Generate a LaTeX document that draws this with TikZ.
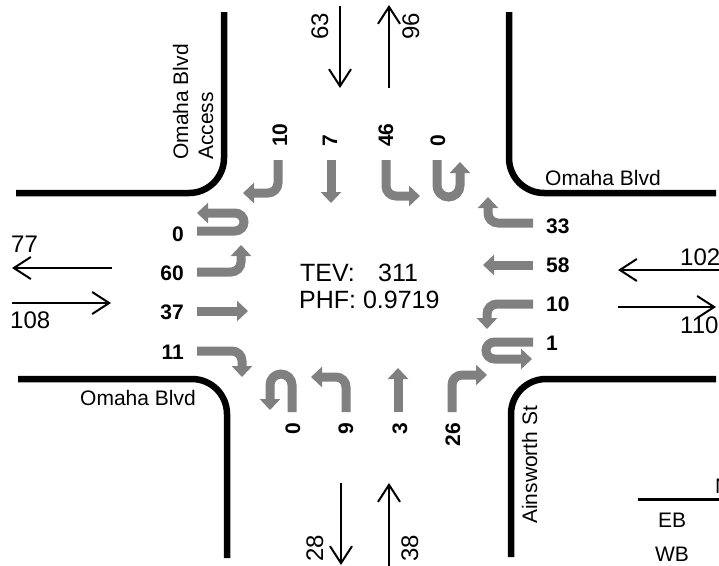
\documentclass[tikz,border=0pt]{standalone}
\usepackage{fontspec}
\setmainfont{Liberation Sans}
\usetikzlibrary{arrows.meta}
\definecolor{mvgray}{RGB}{128,128,128}
\begin{document}
\begin{tikzpicture}[x=1pt,y=-1pt,
 curb/.style={line width=6.5pt, black, rounded corners=35pt},
 mv/.style={draw=mvgray, line width=9pt, rounded corners=10pt, -{Triangle[length=11pt,width=20pt]}},
 vol/.style={line width=2pt, -{Straight Barb[length=17pt,width=22pt,line width=2pt]}},
 bnum/.style={font=\bfseries\fontsize{21}{25}\selectfont, inner sep=0pt},
 rnum/.style={font=\fontsize{24}{28}\selectfont, inner sep=0pt},
 street/.style={font=\fontsize{21}{25}\selectfont, inner sep=0pt},
 big/.style={font=\fontsize{25}{30}\selectfont, inner sep=0pt},
 lgd/.style={font=\fontsize{21}{25}\selectfont, inner sep=0pt},
]
\useasboundingbox (0,0) rectangle (719,565);

% curbs
\draw[curb] (16,193) -- (224,193) -- (224,12);
\draw[curb] (509,12) -- (509,193) -- (716,193);
\draw[curb] (18,379) -- (227,379) -- (227,558);
\draw[curb] (716,379) -- (511,379) -- (511,557);

% street names
\node[street, anchor=base west] (sTR) at (545,185) {Omaha Blvd};
\node[street, anchor=base west] (sBL) at (80,405) {Omaha Blvd};
\node[street, rotate=90, anchor=base west] (sAin) at (537,524) {Ainsworth St};
\node[street, rotate=90, anchor=base west] (sOA1) at (188,160) {Omaha Blvd};
\node[street, rotate=90, anchor=base west] (sOA2) at (213,160) {Access};

% centre text
\node[big, anchor=base west] (tev) at (300,281) {TEV:};
\node[big, anchor=base west] (tevv) at (378,281) {311};
\node[big, anchor=base west] (phf) at (299,308) {PHF: 0.9719};

% left approach (EB)
\draw[mv, rounded corners=9pt] (197,231) -- (244,231) -- (244,213) -- (197,213);
\draw[mv] (197,272) -- (241,272) -- (241,245);
\draw[mv] (197,311) -- (248,311);
\draw[mv] (197,351) -- (242,351) -- (242,377);
\node[bnum, anchor=base east] (l1) at (184,241) {0};
\node[bnum, anchor=base east] (l2) at (184,280) {60};
\node[bnum, anchor=base east] (l3) at (184,319) {37};
\node[bnum, anchor=base east] (l4) at (184,359) {11};

% top approach (SB)
\draw[mv] (278,160) -- (278,193) -- (243,193);
\draw[mv] (331,160) -- (331,203);
\draw[mv] (386,160) -- (386,196) -- (420,196);
\draw[mv, rounded corners=11.5pt] (437,160) -- (437,197) -- (460,197) -- (460,162);
\node[bnum, rotate=90, anchor=base west] (t1) at (287,147) {10};
\node[bnum, rotate=90, anchor=base west] (t2) at (337,147) {7};
\node[bnum, rotate=90, anchor=base west] (t3) at (393,147) {46};
\node[bnum, rotate=90, anchor=base west] (t4) at (445,147) {0};

% right approach (WB)
\draw[mv] (533,223) -- (488,223) -- (488,197);
\draw[mv] (533,265) -- (483,265);
\draw[mv] (533,304) -- (487,304) -- (487,329);
\draw[mv, rounded corners=8.5pt] (533,342) -- (486,342) -- (486,359) -- (532,359);
\node[bnum, anchor=base west] (r1) at (546,233) {33};
\node[bnum, anchor=base west] (r2) at (546,272) {58};
\node[bnum, anchor=base west] (r3) at (546,311) {10};
\node[bnum, anchor=base west] (r4) at (546,350) {1};

% bottom approach (NB)
\draw[mv, rounded corners=11pt] (292,412) -- (292,374) -- (270,374) -- (270,410);
\draw[mv] (346,412) -- (346,377) -- (311,377);
\draw[mv] (398,412) -- (398,368);
\draw[mv] (452,412) -- (452,375) -- (487,375);
\node[bnum, rotate=90, anchor=base east] (b1) at (300,423) {0};
\node[bnum, rotate=90, anchor=base east] (b2) at (353,423) {9};
\node[bnum, rotate=90, anchor=base east] (b3) at (407,423) {3};
\node[bnum, rotate=90, anchor=base east] (b4) at (460,423) {26};

% approach / departure volumes
\coordinate (wOutS) at (112,268); \coordinate (wOutE) at (12,268);
\coordinate (wInS) at (12,303);   \coordinate (wInE) at (111,303);
\draw[vol] (wOutS) -- (wOutE);
\draw[vol] (wInS) -- (wInE);
\node[rnum, anchor=base west] (v77) at (11,252) {77};
\node[rnum, anchor=base west] (v108) at (10,328) {108};

\coordinate (eInS) at (719,270);  \coordinate (eInE) at (618,270);
\coordinate (eOutS) at (618,307); \coordinate (eOutE) at (716,307);
\draw[vol] (eInS) -- (eInE);
\draw[vol] (eOutS) -- (eOutE);
\node[rnum, anchor=base west] (v102) at (680,265) {102};
\node[rnum, anchor=base west] (v110) at (680,333) {110};

\coordinate (nInS) at (340,6);  \coordinate (nInE) at (340,88);
\coordinate (nOutS) at (389,88); \coordinate (nOutE) at (389,5);
\draw[vol] (nInS) -- (nInE);
\draw[vol] (nOutS) -- (nOutE);
\node[rnum, rotate=90, anchor=base west] (v63) at (328,40) {63};
\node[rnum, rotate=90, anchor=base west] (v96) at (419,40) {96};

\coordinate (sOutS) at (341,483); \coordinate (sOutE) at (341,565);
\coordinate (sInS) at (389,566);  \coordinate (sInE) at (389,483);
\draw[vol] (sOutS) -- (sOutE);
\draw[vol] (sInS) -- (sInE);
\node[rnum, rotate=90, anchor=base west] (v28) at (323,562) {28};
\node[rnum, rotate=90, anchor=base west] (v38) at (418,562) {38};

% legend
\coordinate (lgA) at (638,499); \coordinate (lgB) at (719,499);
\draw[line width=3pt] (lgA) -- (lgB);
\node[lgd, anchor=base west] (lgN) at (715,493) {N};
\node[lgd] (lgEB) at (672,520) {EB};
\node[lgd] (lgWB) at (672,554) {WB};
\end{tikzpicture}
\end{document}
